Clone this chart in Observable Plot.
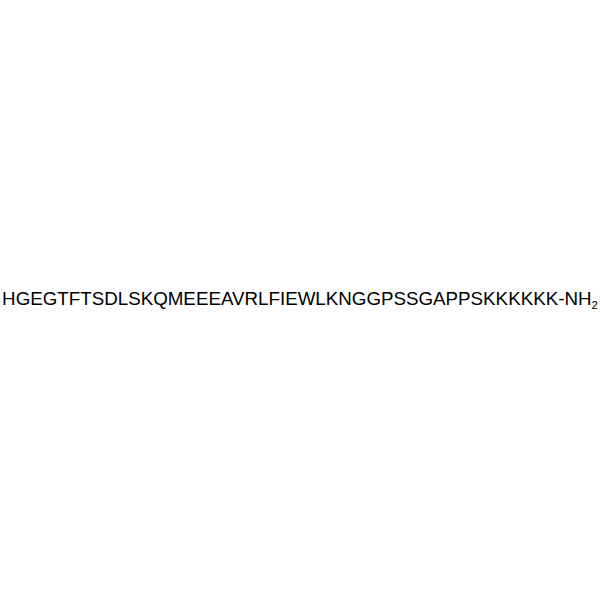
<!DOCTYPE html>
<html>
<head>
<meta charset="utf-8">
<script src="https://cdn.jsdelivr.net/npm/d3@7"></script>
<script src="https://cdn.jsdelivr.net/npm/@observablehq/plot@0.6"></script>
<style>
  html, body { margin: 0; padding: 0; background: #fff; }
</style>
</head>
<body>
<div id="chart"></div>
<script>
const residues = ["H","G","E","G","T","F","T","S","D","L","S","K","Q","M","E","E","E","A","V","R","L","F","I","E","W","L","K","N","G","G","P","S","S","G","A","P","P","S","K","K","K","K","K","K"];
const cTerminus = "-NH";
const subscript = "2";

const labels = [{x: 0.5, y: 0.5, text: residues.join("") + cTerminus}];

const chart = Plot.plot({
  width: 600,
  height: 600,
  margin: 0,
  x: {domain: [0, 1], axis: null},
  y: {domain: [1, 0], axis: null},
  style: {background: "#fff"},
  marks: [
    Plot.text(labels, {
      x: "x", y: "y", text: "text",
      fontSize: 18.75,
      fontFamily: "Liberation Sans, Arial, sans-serif",
      fill: "#000",
      textAnchor: "middle",
      lineAnchor: "bottom",
      dx: -0.5,
      dy: 4.5
    })
  ]
});
d3.select(chart).selectAll("text").each(function() {
  const t = d3.select(this);
  t.append("tspan").attr("font-size", 11.5).attr("dy", 4).text(subscript);
});
document.getElementById("chart").appendChild(chart);
</script>
</body>
</html>
